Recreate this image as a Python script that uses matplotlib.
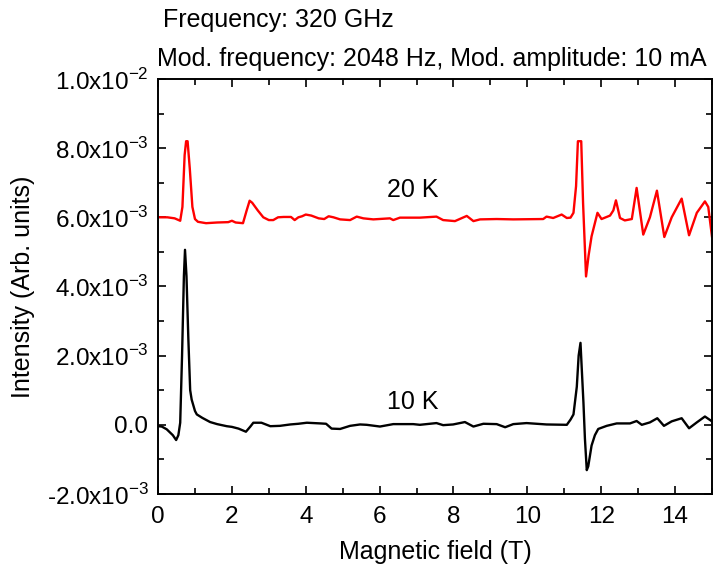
import matplotlib
matplotlib.use("Agg")
import matplotlib.pyplot as plt
from matplotlib.ticker import MultipleLocator, FuncFormatter

plt.rcParams['font.family'] = ['Liberation Sans', 'DejaVu Sans']
plt.rcParams['mathtext.fontset'] = 'custom'
plt.rcParams['mathtext.rm'] = 'Liberation Sans'

# 20 K trace (field in T, intensity in units of 1e-3)
field_20k = [0.0, 0.25, 0.45, 0.6, 0.66, 0.72, 0.76, 0.80, 0.86, 0.93, 1.0, 1.08, 1.3, 1.6,
             1.9, 2.0, 2.1, 2.3, 2.4, 2.48, 2.55, 2.7, 2.85, 3.0, 3.12, 3.25, 3.4, 3.6, 3.7,
             3.8, 3.9, 4.0, 4.15, 4.35, 4.5, 4.62, 4.75, 4.93, 5.2, 5.38, 5.56, 5.83, 6.28,
             6.37, 6.55, 7.09, 7.54, 7.72, 8.04, 8.36, 8.54, 8.72, 9.17, 9.62, 10.43, 10.52,
             10.7, 10.93, 11.07, 11.17, 11.25, 11.32, 11.37, 11.46, 11.51, 11.59, 11.66,
             11.74, 11.9, 12.01, 12.24, 12.33, 12.4, 12.51, 12.64, 12.83, 12.96, 13.14,
             13.32, 13.51, 13.71, 13.91, 14.18, 14.38, 14.59, 14.81, 14.9, 15.0]
int_20k = [6.00, 6.00, 5.97, 5.90, 6.3, 7.8, 8.2, 8.2, 7.4, 6.3, 5.95, 5.87, 5.83, 5.85,
           5.86, 5.90, 5.85, 5.83, 6.2, 6.48, 6.42, 6.2, 6.0, 5.92, 5.92, 6.0, 6.01, 6.01,
           5.92, 6.0, 6.03, 6.08, 6.05, 5.97, 5.95, 6.03, 6.0, 5.94, 5.92, 6.02, 5.97, 5.94,
           5.97, 5.92, 5.99, 5.99, 6.02, 5.92, 5.89, 6.04, 5.89, 5.94, 5.95, 5.94, 5.95,
           6.02, 5.98, 6.08, 5.98, 5.99, 6.13, 6.9, 8.2, 8.2, 6.41, 4.29, 4.9, 5.45, 6.13,
           5.95, 6.05, 6.2, 6.49, 5.98, 5.91, 5.95, 6.85, 5.5, 6.0, 6.77, 5.43, 6.0, 6.54,
           5.48, 6.13, 6.46, 6.3, 5.45]

# 10 K trace
field_10k = [0.0, 0.1, 0.235, 0.4, 0.49, 0.55, 0.6, 0.65, 0.7, 0.73, 0.77, 0.82, 0.87, 0.91,
             1.0, 1.05, 1.2, 1.41, 1.6, 1.86, 2.0, 2.18, 2.38, 2.5, 2.58, 2.8, 3.04, 3.3,
             3.58, 3.8, 4.03, 4.4, 4.55, 4.7, 4.93, 5.2, 5.47, 5.65, 6.01, 6.37, 6.91, 7.09,
             7.54, 7.72, 7.99, 8.31, 8.54, 8.81, 9.17, 9.4, 9.62, 9.98, 10.52, 11.07, 11.17,
             11.25, 11.34, 11.39, 11.44, 11.48, 11.52, 11.56, 11.61, 11.65, 11.74, 11.83,
             11.92, 12.15, 12.42, 12.78, 12.96, 13.1, 13.32, 13.52, 13.7, 13.91, 14.18,
             14.38, 14.59, 14.81, 15.0]
int_10k = [-0.04, -0.05, -0.13, -0.3, -0.44, -0.3, 0.06, 2.0, 4.3, 5.06, 4.3, 2.5, 1.0, 0.73,
           0.4, 0.3, 0.2, 0.08, 0.02, -0.04, -0.06, -0.11, -0.2, -0.05, 0.06, 0.06, -0.04,
           -0.03, 0.01, 0.03, 0.06, 0.04, 0.03, -0.11, -0.12, -0.03, 0.01, 0.0, -0.05, 0.02,
           0.02, 0.0, 0.05, -0.01, 0.01, 0.08, -0.05, 0.03, 0.02, -0.07, 0.02, 0.05, 0.01,
           0.0, 0.15, 0.3, 1.1, 2.0, 2.37, 1.5, 0.64, -0.4, -1.31, -1.2, -0.6, -0.3, -0.12,
           -0.03, 0.04, 0.04, 0.11, 0.0, 0.07, 0.19, -0.03, 0.1, 0.19, -0.1, 0.07, 0.24, 0.1]


def fmt(v, pos):
    if abs(v) < 1e-12:
        return "0.0"
    exp = -3 if abs(v) < 0.00999 else -2
    mant = v / 10 ** exp
    sign = "-" if mant < 0 else ""
    return sign + "%.1fx10" % abs(mant) + r"$^{\mathregular{%d}}$" % exp


fig = plt.figure(figsize=(7.25, 5.76), dpi=100)
ax = fig.add_axes([0.218, 0.1424, 0.764, 0.7205])

ax.plot(field_20k, [v * 1e-3 for v in int_20k], color='red', lw=1.7)
ax.plot(field_10k, [v * 1e-3 for v in int_10k], color='black', lw=1.7)

ax.set_xlim(0, 15)
ax.set_ylim(-2e-3, 1e-2)
ax.xaxis.set_major_locator(MultipleLocator(2))
ax.xaxis.set_minor_locator(MultipleLocator(1))
ax.yaxis.set_major_locator(MultipleLocator(2e-3))
ax.yaxis.set_minor_locator(MultipleLocator(1e-3))
ax.yaxis.set_major_formatter(FuncFormatter(fmt))
ax.tick_params(which='both', direction='in', top=True, right=True, width=1.2, labelsize=17.5)
ax.tick_params(which='major', length=6)
ax.tick_params(which='minor', length=4)
ax.tick_params(axis='y', pad=7)
ax.tick_params(axis='x', pad=9)
for s in ax.spines.values():
    s.set_linewidth(1.4)

ax.text(6.9, 6.8e-3, "20 K", fontsize=18, ha='center', va='center')
ax.text(6.9, 0.66e-3, "10 K", fontsize=18, ha='center', va='center')

ax.set_xlabel("Magnetic field (T)", fontsize=18, labelpad=8)
ax.set_ylabel("Intensity (Arb. units)", fontsize=18, labelpad=8)

fig.text(163 / 725, 1 - 20 / 576, "Frequency: 320 GHz", fontsize=18, va='center')
fig.text(157 / 725, 1 - 59 / 576, "Mod. frequency: 2048 Hz, Mod. amplitude: 10 mA",
         fontsize=18, va='center')

fig.savefig("out.png", dpi=100)
